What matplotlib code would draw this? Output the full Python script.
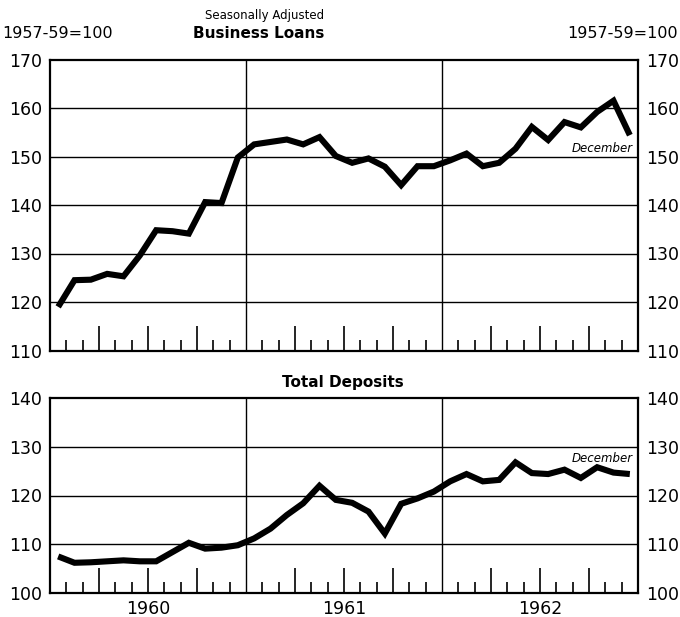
import matplotlib
matplotlib.use("Agg")
import matplotlib.pyplot as plt
from matplotlib.ticker import FixedLocator
from matplotlib import font_manager

# Monthly data, Jan 1960 - Dec 1962 (1957-59=100, seasonally adjusted)
business_loans = [
    119.0, 124.5, 124.6, 125.8, 125.3, 129.6, 134.8, 134.6, 134.1, 140.6, 140.4, 149.8,
    152.5, 153.0, 153.5, 152.5, 154.0, 150.1, 148.7, 149.6, 147.9, 144.1, 148.0, 148.0,
    149.2, 150.6, 148.0, 148.7, 151.6, 156.1, 153.4, 157.1, 156.0, 159.2, 161.5, 154.4,
]
total_deposits = [
    107.5, 106.2, 106.3, 106.5, 106.7, 106.5, 106.5, 108.4, 110.3, 109.1, 109.3, 109.8,
    111.2, 113.2, 116.0, 118.4, 122.0, 119.1, 118.5, 116.7, 112.2, 118.3, 119.4, 120.8,
    122.9, 124.4, 122.9, 123.2, 126.8, 124.6, 124.4, 125.3, 123.6, 125.8, 124.7, 124.4,
]
years = ["1960", "1961", "1962"]
loans_yticks = [110, 120, 130, 140, 150, 160, 170]
deposits_yticks = [100, 110, 120, 130, 140]
panel_titles = ["Business Loans", "Total Deposits"]

W, H = 680, 617
fig = plt.figure(figsize=(W / 100, H / 100), dpi=100)
plt.rcParams['font.family'] = ['DejaVu Sans']

names = {f.name for f in font_manager.fontManager.ttflist}
title_family = 'Liberation Sans Narrow' if 'Liberation Sans Narrow' in names else 'DejaVu Sans'
title_size = 14 if title_family == 'Liberation Sans Narrow' else 11

def frac_box(x0, y0, x1, y1):
    return [x0 / W, 1 - y1 / H, (x1 - x0) / W, (y1 - y0) / H]

ax1 = fig.add_axes(frac_box(50, 59.5, 638, 350.5))
ax2 = fig.add_axes(frac_box(50, 398, 638, 593))

nmonths = len(business_loans)
xs = [i + 0.5 for i in range(nmonths)]

def style(ax, data, yticks):
    ax.plot(xs, data, color='black', lw=4.4, solid_joinstyle='miter', solid_capstyle='butt', zorder=3)
    ax.set_xlim(0, nmonths)
    ax.set_ylim(yticks[0], yticks[-1])
    for y in yticks[1:-1]:
        ax.axhline(y, color='black', lw=1.0, zorder=1)
    for b in (12, 24):
        ax.axvline(b, color='black', lw=1.0, zorder=1)
    for s in ax.spines.values():
        s.set_linewidth(1.6)
    ax.set_yticks(yticks)
    ax.set_yticklabels([str(v) for v in yticks])
    ax.tick_params(axis='y', which='both', left=False, right=False, labelleft=True,
                   labelright=True, labelsize=12.5, pad=2)
    quarters = [q for q in range(3, nmonths, 3) if q % 12 != 0]
    months = [m for m in range(1, nmonths) if m % 3 != 0]
    ax.xaxis.set_major_locator(FixedLocator(quarters))
    ax.xaxis.set_minor_locator(FixedLocator(months))
    ax.tick_params(axis='x', which='major', direction='in', length=18, width=1.2,
                   labelbottom=False, top=False)
    ax.tick_params(axis='x', which='minor', direction='in', length=8, width=1.2, top=False)

style(ax1, business_loans, loans_yticks)
style(ax2, total_deposits, deposits_yticks)

for i, yr in enumerate(years):
    ax2.text(12 * i + 6, -0.035, yr, transform=ax2.get_xaxis_transform(),
             ha='center', va='top', fontsize=12.5)

cond = dict(family=[title_family, 'DejaVu Sans'], fontweight='bold', fontsize=title_size)
fig.text(259 / W, 1 - 33 / H, panel_titles[0], ha='center', va='center', **cond)
fig.text(343 / W, 1 - 382 / H, panel_titles[1], ha='center', va='center', **cond)
fig.text(265 / W, 1 - 16 / H, "Seasonally Adjusted", ha='center', va='center', fontsize=8.5)
fig.text(2 / W, 1 - 33 / H, "1957-59=100", ha='left', va='center', fontsize=11.5)
fig.text(678 / W, 1 - 33 / H, "1957-59=100", ha='right', va='center', fontsize=11.5)

ax1.text(35.7, 150.4, "December", ha='right', va='bottom', fontsize=8.5, style='italic')
ax2.text(35.7, 126.2, "December", ha='right', va='bottom', fontsize=8.5, style='italic')

fig.savefig("out.png", dpi=100)
